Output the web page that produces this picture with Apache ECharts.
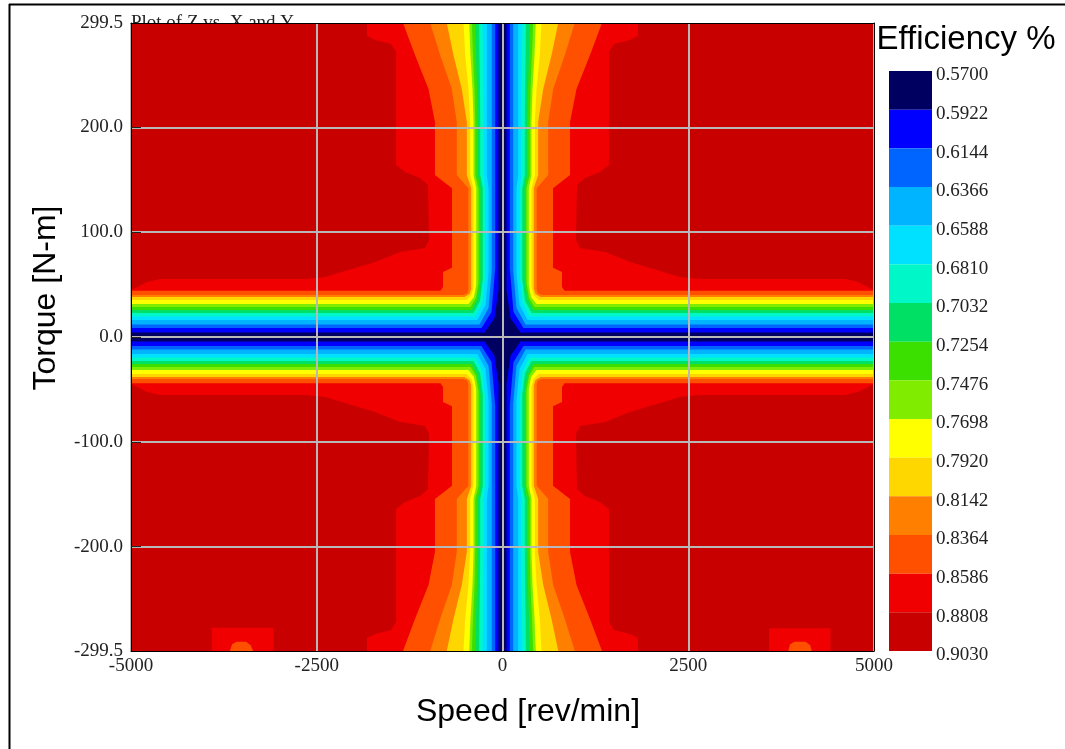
<!DOCTYPE html>
<html>
<head>
<meta charset="utf-8">
<script src="https://cdn.jsdelivr.net/npm/echarts@6/dist/echarts.min.js"></script>
<style>
  html, body { margin: 0; padding: 0; background: #fff; }
  #chart { width: 1065px; height: 749px; }
</style>
</head>
<body>
<div id="chart"></div>
<script>
// Axis ticks
const speedTicks = [-5000, -2500, 0, 2500, 5000];
const torqueTicks = [-299.5, -200, -100, 0, 100, 200, 299.5];
const torqueGrid = [-200, -100, 0, 100, 200];

// Efficiency contour levels and the fill colour of each band between them
const levels = [0.5700, 0.5922, 0.6144, 0.6366, 0.6588, 0.6810, 0.7032, 0.7254,
                0.7476, 0.7698, 0.7920, 0.8142, 0.8364, 0.8586, 0.8808, 0.9030];
const bandColors = ['#000060', '#0000ff', '#0064ff', '#00b4ff', '#00e0ff', '#00f8c8', '#00e064',
                    '#3ce000', '#80ec00', '#ffff00', '#ffd700', '#ff8000', '#ff5000', '#f00000', '#c80000'];

// Contour lines in the motoring quadrant (speed >= 0, torque >= 0), [rev/min, N-m],
// running from the top edge down the speed-axis stripe and out along the torque-axis stripe.
// The map is mirrored for reverse speed and regenerating torque.
const edge5922 = [[54, 299.5], [54, 44.8], [108, 18], [242, 4.3], [5000, 4.3]];
const edge6144 = [[98, 299.5], [98, 65.8], [148, 23.8], [283, 8.6], [5000, 8.6]];
const edge6366 = [[144, 299.5], [144, 64], [188, 27.7], [310, 11.9], [5000, 11.9]];
const edge6588 = [[211, 299.5], [211, 154.5], [188, 142], [188, 61], [229, 30.5], [337, 16.2], [5000, 16.2]];
const edge6810 = [[269, 299.5], [262, 269], [256, 236.5], [256, 154.5], [233, 142], [233, 58.2], [269, 32.4], [363, 19.6], [5000, 19.6]];
const edge7032 = [[314, 299.5], [310, 269], [303, 236.5], [300, 205], [300, 154.5], [265, 142], [265, 55.3], [303, 34.3], [390, 22.9], [5000, 22.9]];
const edge7254 = [[367, 299.5], [357, 269], [343, 236.5], [332, 205], [332, 154.5], [300, 142], [300, 53.4], [337, 36.2], [417, 25.8], [5000, 25.8]];
const edge7476 = [[413, 299.5], [397, 269], [377, 236.5], [367, 205], [367, 154.5], [323, 142], [323, 51.5], [357, 37.2], [431, 28.6], [5000, 28.6]];
const edge7698 = [[448, 299.5], [431, 269], [404, 236.5], [390, 205], [390, 154.5], [354, 142], [354, 49.6], [384, 38.2], [458, 31.5], [5000, 31.5]];
const edge7920 = [[525, 299.5], [502, 269], [458, 236.5], [435, 205], [435, 154.5], [390, 142], [390, 47.7], [417, 40], [485, 35.3], [5000, 35.3]];
const edge8142 = [[750, 299.5], [660, 269], [548, 236.5], [480, 205], [480, 154.5], [421, 142], [421, 45.8], [444, 41], [511, 38.2], [5000, 38.2]];
const edge8364 = [[973, 299.5], [839, 269], [682, 236.5], [615, 205], [615, 154.5], [460, 142], [460, 44.8], [475, 41.5], [530, 40], [5000, 40]];
const edge8586 = [[1339, 299.5], [1178, 269], [996, 236.5], [909, 205], [909, 154.5], [680, 142], [680, 66], [801, 62], [801, 47.7], [835, 44], [5000, 44]];
const edge8808 = [[1824, 299.5], [1824, 287.1], [1716, 283.3], [1501, 279.5], [1433, 271.9], [1433, 164.1], [1312, 157.4],
                  [1110, 151.7], [1003, 145], [989, 92.5], [1043, 84.9], [1380, 81.1], [1716, 71.5], [2389, 57.2],
                  [2658, 55.3], [4610, 55.3], [4785, 52.5], [5000, 44.8]];

// Low-efficiency pockets at high regenerating torque
const pocket8808 = [
  [[-3914, -299.5], [-3914, -277.3], [-3085, -277.3], [-3085, -299.5]],
  [[3588, -299.5], [3588, -277.8], [4415, -277.8], [4415, -299.5]]
];
const pocket8586 = [
  [[-3670, -299.5], [-3640, -293], [-3580, -290.6], [-3450, -290.6], [-3390, -294], [-3356, -299.5]],
  [[3847, -299.5], [3870, -293], [3930, -290.6], [4080, -290.6], [4140, -294], [4162, -299.5]]
];

const edges = [edge5922, edge6144, edge6366, edge6588, edge6810, edge7032, edge7254,
               edge7476, edge7698, edge7920, edge8142, edge8364, edge8586, edge8808];
const pockets = { 13: pocket8586, 14: pocket8808 };

// Build the filled regions: the whole field first, then each "efficiency below level" region on top
function crossRegion(edge) {
  const q1 = edge;
  const q4 = edge.slice().reverse().map(([s, t]) => [s, -t]);
  const q3 = edge.map(([s, t]) => [-s, -t]);
  const q2 = edge.slice().reverse().map(([s, t]) => [-s, t]);
  return q1.concat(q4, q3, q2);
}
const regions = [{
  points: [[-5000, -299.5], [5000, -299.5], [5000, 299.5], [-5000, 299.5]],
  color: bandColors[14]
}];
for (let k = 14; k >= 1; k--) {
  regions.push({ points: crossRegion(edges[k - 1]), color: bandColors[k - 1] });
  (pockets[k] || []).forEach(p => regions.push({ points: p, color: bandColors[k - 1] }));
}

const numFont = 'Liberation Serif';
const gridGray = '#b8b8b8';
const chart = echarts.init(document.getElementById('chart'), null, { renderer: 'canvas' });

chart.setOption({
  animation: false,
  backgroundColor: '#fff',
  grid: [
    { left: 131, top: 23, width: 743, height: 628 },
    { left: 889, top: 71, width: 43, height: 580 }
  ],
  xAxis: [
    {
      gridIndex: 0, type: 'value', min: -5000, max: 5000, interval: 2500, z: 5,
      axisLine: { show: true, onZero: false, lineStyle: { color: '#000', width: 1 } },
      axisTick: { show: false },
      axisLabel: { margin: 6, fontFamily: numFont, fontSize: 19, color: '#222', formatter: v => String(v) },
      splitLine: { show: true, lineStyle: { color: gridGray, width: 2 } }
    },
    {
      gridIndex: 0, type: 'value', min: -5000, max: 5000, position: 'top', z: 5,
      axisLine: { show: true, onZero: false, lineStyle: { color: '#000', width: 1 } },
      axisTick: { show: false }, axisLabel: { show: false }, splitLine: { show: false }
    },
    {
      gridIndex: 1, type: 'value', min: 0, max: 1, show: false
    }
  ],
  yAxis: [
    {
      gridIndex: 0, type: 'value', min: -299.5, max: 299.5, z: 5,
      axisLine: { show: true, onZero: false, lineStyle: { color: '#000', width: 1 } },
      axisTick: { show: true, inside: true, length: 10, customValues: torqueGrid, lineStyle: { color: '#222', width: 1 } },
      axisLabel: { customValues: torqueTicks, margin: 8, fontFamily: numFont, fontSize: 19, color: '#222',
                   formatter: v => v.toFixed(1) },
      splitLine: { show: true, lineStyle: { color: gridGray, width: 2 } }
    },
    {
      gridIndex: 0, type: 'value', min: -299.5, max: 299.5, position: 'right', z: 5,
      axisLine: { show: true, onZero: false, lineStyle: { color: '#000', width: 1 } },
      axisTick: { show: false }, axisLabel: { show: false }, splitLine: { show: false }
    },
    {
      gridIndex: 1, type: 'value', min: levels[0], max: levels[levels.length - 1], inverse: true, position: 'right',
      axisLine: { show: false }, axisTick: { show: false }, splitLine: { show: false },
      axisLabel: { customValues: levels, margin: 4, fontFamily: numFont, fontSize: 19, color: '#222',
                   verticalAlign: 'top', lineHeight: 9, formatter: v => v.toFixed(4) }
    }
  ],
  series: [
    {
      type: 'custom', xAxisIndex: 0, yAxisIndex: 0, z: 2, clip: true, silent: true,
      data: regions.map((r, i) => [i]),
      renderItem: (params, api) => {
        const r = regions[api.value(0)];
        return {
          type: 'polygon',
          shape: { points: r.points.map(p => api.coord(p)) },
          style: { fill: r.color }
        };
      }
    },
    {
      type: 'custom', xAxisIndex: 2, yAxisIndex: 2, z: 2, silent: true,
      data: bandColors.map((c, i) => [i]),
      renderItem: (params, api) => {
        const i = api.value(0);
        const a = api.coord([0, levels[i]]);
        const b = api.coord([1, levels[i + 1]]);
        return {
          type: 'rect',
          shape: { x: a[0], y: a[1], width: b[0] - a[0], height: b[1] - a[1] },
          style: { fill: bandColors[i] }
        };
      }
    }
  ],
  graphic: [
    // plot caption, partly tucked behind the top of the plot area
    { type: 'text', z: 0, x: 131, y: 23,
      style: { text: 'Plot of Z vs. X and Y', fontFamily: numFont, fontSize: 19, fill: '#222',
               align: 'left', verticalAlign: 'middle' } },
    { type: 'line', z: 20, shape: { x1: 9.5, y1: 4, x2: 9.5, y2: 749 }, style: { stroke: '#000', lineWidth: 2 } },
    { type: 'line', z: 20, shape: { x1: 9, y1: 4.5, x2: 1065, y2: 4.5 }, style: { stroke: '#000', lineWidth: 2 } },
    { type: 'text', z: 20, x: 966, y: 40,
      style: { text: 'Efficiency %', fontFamily: 'Liberation Sans', fontSize: 33, fill: '#000',
               align: 'center', verticalAlign: 'middle', backgroundColor: '#fff' } },
    { type: 'text', z: 20, x: 528, y: 712,
      style: { text: 'Speed [rev/min]', fontFamily: 'Liberation Sans', fontSize: 32, fill: '#000',
               align: 'center', verticalAlign: 'middle' } },
    { type: 'text', z: 20, x: 46, y: 298, rotation: Math.PI / 2,
      style: { text: 'Torque [N-m]', fontFamily: 'Liberation Sans', fontSize: 32, fill: '#000',
               align: 'center', verticalAlign: 'middle' } }
  ]
});
</script>
</body>
</html>
